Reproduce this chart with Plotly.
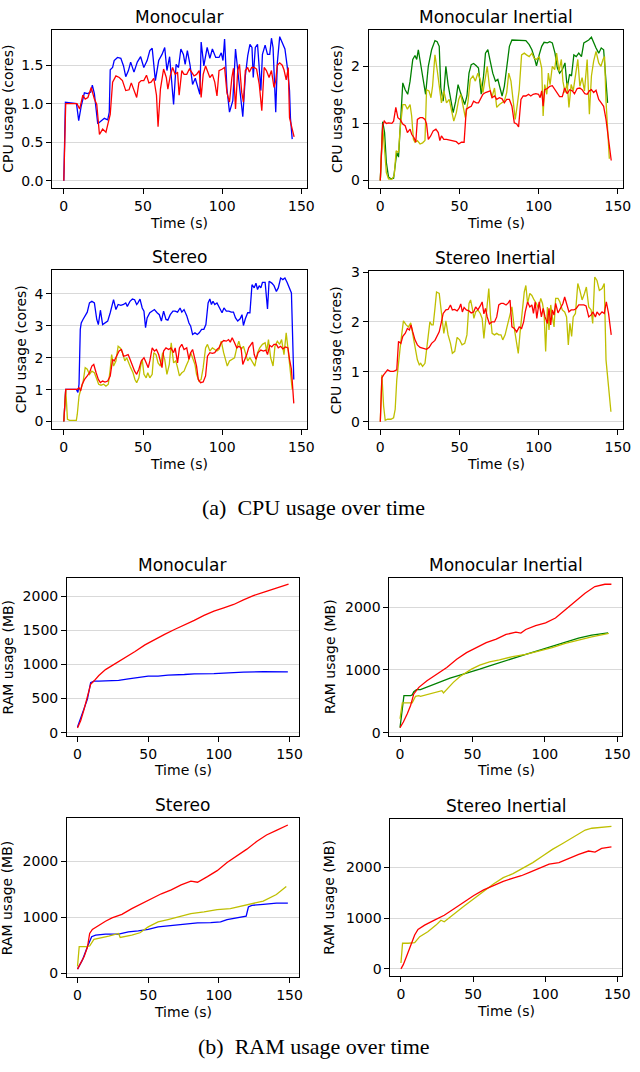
import plotly.graph_objects as go

# (time s, value) pairs
CPU_MONO_BLUE = [(0, 0), (1, 1.02), (8, 1.0), (9.4, 0.78), (11, 0.97), (12, 1.05), (13, 1.14), (15, 1.13), (17, 1.15), (18, 1.24), (19.3, 1.13), (21.4, 0.74), (23.5, 0.78), (25.6, 0.81), (27.7, 0.79), (28.7, 0.89), (29.3, 1.44), (30.8, 1.47), (31.8, 1.56), (33.9, 1.60), (36, 1.59), (37.7, 1.49), (39.1, 1.35), (40.8, 1.43), (42.2, 1.54), (44.3, 1.41), (46.4, 1.54), (48.5, 1.61), (50.5, 1.47), (52.6, 1.56), (54.3, 1.69), (55.8, 1.72), (57.8, 1.30), (59.9, 1.56), (62, 1.64), (63.7, 1.73), (65.1, 1.43), (66.8, 1.61), (67.8, 1.36), (69.3, 0.99), (70.9, 1.51), (72.4, 1.47), (73.9, 1.71), (75.5, 1.64), (76.6, 1.51), (78, 1.69), (79.7, 1.50), (81.3, 1.25), (83, 1.33), (84.9, 1.20), (85.9, 1.12), (86.7, 1.80), (88.4, 1.49), (90.5, 1.73), (92.2, 1.59), (93.8, 1.71), (95.9, 1.60), (98, 1.60), (99.4, 1.66), (100.5, 1.56), (101.5, 1.84), (103, 1.19), (104.6, 0.89), (106.7, 1.04), (108.4, 1.71), (110.3, 1.34), (111.3, 1.15), (113, 0.83), (114.6, 1.36), (116.1, 1.62), (117.5, 1.77), (118.8, 1.73), (119.6, 1.34), (120.9, 1.73), (122.3, 1.77), (124.4, 1.17), (125.4, 1.64), (127.1, 1.76), (128.6, 1.64), (130, 1.64), (131.1, 1.85), (132.1, 1.73), (133.8, 0.89), (134.8, 1.53), (136.3, 1.87), (137.9, 1.79), (139.6, 1.71), (141, 1.49), (142.5, 1.17), (143.1, 0.81), (144.2, 0.54)]
CPU_MONO_RED = [(0, 0), (1.2, 1.0), (8.3, 1.0), (10, 0.93), (11, 1.02), (12, 1.11), (13.5, 1.06), (15.2, 1.08), (17.3, 1.21), (19.3, 1.06), (20.8, 0.99), (22.5, 0.60), (24.5, 0.67), (26.6, 0.63), (28, 0.75), (29.3, 0.86), (30.8, 1.28), (32.9, 1.36), (35, 1.34), (37, 1.30), (39.1, 1.17), (41.2, 1.18), (42.6, 1.27), (44.3, 1.18), (46, 1.08), (47.4, 1.27), (48.9, 1.30), (50.5, 1.30), (52.2, 1.37), (53.7, 1.27), (55.1, 1.28), (56.8, 1.33), (58.5, 1.11), (59.5, 0.70), (61, 1.19), (63, 1.45), (64.7, 1.34), (65.7, 1.19), (67.2, 1.36), (68.7, 1.47), (70.3, 1.38), (71.8, 1.41), (72.8, 1.11), (74.5, 1.43), (75.9, 1.38), (77.6, 1.38), (79.3, 1.45), (80.7, 1.41), (82.2, 1.36), (83.8, 1.38), (85.5, 1.43), (86.7, 1.08), (88, 1.38), (89.5, 1.49), (90.7, 1.41), (92.2, 1.34), (93.8, 1.38), (95.3, 1.28), (96.7, 1.10), (98, 1.43), (100.1, 1.45), (101.5, 1.47), (103, 1.14), (104.6, 1.02), (106.1, 1.34), (107.1, 1.46), (108.4, 0.93), (109.8, 1.43), (110.9, 1.51), (112.3, 1.15), (113.4, 1.02), (114.6, 1.43), (116.1, 1.47), (117.1, 1.41), (118.6, 1.47), (120.2, 1.47), (121.7, 1.45), (123.4, 1.25), (125, 0.91), (126.5, 1.47), (127.9, 1.43), (129.6, 1.34), (131.1, 1.43), (132.7, 1.21), (133.8, 1.30), (134.8, 1.50), (136.3, 1.53), (137.9, 1.50), (139, 1.44), (140.4, 1.31), (141.7, 1.47), (142.5, 0.82), (144.2, 0.67), (145.4, 0.57)]

CPU_MONO_INERTIAL_GREEN = [(0, 0), (1.5, 1.03), (2.7, 0.84), (3.8, 0.32), (5.2, 0.06), (6.7, 0.03), (8.4, 0.04), (9.4, 0.29), (10.4, 0.49), (11.5, 0.41), (13, 1.13), (14.2, 1.71), (15.7, 1.59), (17.3, 1.51), (18.8, 1.74), (20.5, 2.12), (21.9, 2.19), (23, 2.12), (24, 2.29), (25.5, 2.03), (27.2, 1.68), (28.6, 1.51), (30.3, 2.0), (32.4, 2.29), (34.5, 2.45), (35.9, 2.43), (37.2, 2.35), (38.2, 1.62), (39.7, 1.39), (41.4, 2.0), (42.8, 1.68), (44.5, 1.42), (46, 1.19), (47.6, 1.39), (49.1, 1.68), (50.6, 1.54), (51.8, 1.45), (53.3, 1.33), (54.7, 1.48), (56, 1.88), (57.4, 2.03), (58.9, 2.05), (60.6, 2.01), (62, 1.97), (63.7, 1.51), (65.2, 1.83), (66.4, 2.23), (67.9, 2.29), (69.4, 2.09), (71, 1.88), (72.7, 1.74), (74.2, 1.77), (75.6, 1.62), (76.9, 1.48), (78.3, 1.65), (79.8, 2.0), (81.5, 2.35), (83.1, 2.46), (85.2, 2.46), (86.7, 2.45), (88.2, 2.46), (90.2, 2.46), (91.9, 2.45), (94, 2.38), (95.7, 2.29), (97.1, 2.17), (98.6, 2.01), (100.3, 2.20), (101.9, 2.35), (103.4, 2.42), (105.5, 2.41), (107, 2.43), (108.6, 2.41), (110.3, 2.23), (111.8, 1.97), (113.2, 1.88), (114.9, 1.94), (116.6, 2.06), (118, 1.62), (119.5, 1.86), (120.7, 1.83), (122.2, 2.20), (123.7, 2.17), (125.3, 2.23), (127, 2.17), (128.5, 2.41), (129.9, 2.43), (131.6, 2.46), (133.3, 2.51), (134.7, 2.41), (136.2, 2.32), (137.9, 2.23), (139.5, 2.32), (141, 2.29), (142, 1.88), (143.5, 1.36)]
CPU_MONO_INERTIAL_YELLOW = [(0, 0), (1.5, 0.93), (2.5, 0.61), (3.8, 0.14), (5.2, 0.03), (7.3, 0.02), (8.8, 0.09), (10, 0.52), (11.5, 0.49), (12.5, 0.90), (14.2, 1.33), (15.7, 1.33), (17.1, 1.25), (18.8, 1.33), (19.8, 1.13), (20.9, 0.72), (21.9, 0.67), (23.4, 0.70), (25.1, 0.64), (26.7, 0.66), (28.2, 0.70), (29.2, 1.59), (30.7, 1.57), (32, 1.45), (33, 1.65), (34.5, 2.20), (35.9, 1.94), (37.2, 1.65), (38.6, 1.36), (40.1, 1.57), (41.8, 1.36), (43.5, 1.42), (44.9, 1.25), (46.4, 1.04), (48, 1.19), (49.5, 1.42), (50.8, 1.51), (52.2, 1.30), (53.7, 1.10), (55.4, 1.39), (56.8, 1.77), (58.5, 1.83), (60, 1.74), (61.6, 1.88), (63.1, 1.77), (64.8, 1.54), (66.2, 1.77), (67.5, 2.0), (68.9, 1.65), (70.4, 1.45), (72.1, 1.62), (73.5, 1.28), (75.2, 1.33), (76.9, 1.36), (78.3, 1.39), (79.8, 1.54), (81.1, 1.88), (82.5, 1.74), (84, 1.30), (85.2, 1.07), (86.5, 1.33), (87.7, 1.59), (89.2, 2.20), (90.9, 2.23), (92.3, 2.20), (94, 2.17), (95.7, 2.23), (97.1, 2.14), (98.6, 2.12), (100.3, 2.17), (101.9, 1.97), (102.8, 1.13), (103.8, 1.68), (105.1, 1.51), (106.1, 1.88), (107.2, 1.68), (108.6, 2.0), (110.1, 1.94), (111.3, 2.23), (112.8, 1.91), (114.3, 2.12), (115.3, 1.74), (116.6, 1.54), (118, 1.71), (119.1, 1.28), (120.5, 1.68), (121.8, 1.57), (123.2, 1.80), (124.7, 2.12), (126, 1.65), (127.4, 1.80), (128.9, 1.57), (130.6, 2.12), (132, 1.16), (133.3, 1.83), (134.7, 2.09), (136.2, 2.26), (137.9, 2.06), (139.3, 2.0), (140.6, 2.12), (141.6, 2.17), (142.5, 1.39), (143.5, 0.87), (144.6, 0.38)]
CPU_MONO_INERTIAL_RED = [(0, 0), (1.5, 0.96), (2.5, 1.04), (3.8, 1.0), (5.2, 1.01), (7.3, 1.0), (8.4, 1.04), (9.8, 1.28), (11.1, 1.10), (12.5, 1.07), (14.2, 0.99), (15.7, 0.96), (17.1, 0.84), (18.8, 0.90), (19.8, 0.81), (21.3, 0.75), (22.4, 0.67), (23.4, 1.07), (25.1, 1.10), (26.7, 1.10), (28.2, 1.07), (29.2, 0.99), (30.3, 0.72), (31.8, 0.78), (33.4, 0.87), (35.1, 0.90), (36.6, 0.84), (37.6, 0.70), (38.6, 0.78), (40.1, 0.72), (41.8, 0.72), (43.9, 0.71), (46, 0.70), (48, 0.68), (49.5, 0.64), (51.2, 0.67), (52.9, 0.67), (54.3, 1.25), (56, 1.28), (57.4, 1.30), (58.9, 1.39), (60.6, 1.36), (62, 1.36), (63.3, 1.42), (64.8, 1.51), (66.4, 1.54), (67.9, 1.55), (69.4, 1.57), (70.6, 1.45), (72.1, 1.48), (73.5, 1.42), (75.2, 1.45), (76.9, 1.43), (78.3, 1.36), (79.8, 1.42), (81.5, 1.42), (83.1, 1.30), (84.6, 1.01), (86.1, 0.99), (87.3, 0.94), (88.8, 1.42), (90.2, 1.48), (91.9, 1.48), (93.6, 1.51), (95, 1.48), (96.5, 1.51), (98.2, 1.52), (99.9, 1.51), (100.9, 1.45), (101.9, 1.57), (102.8, 1.30), (103.8, 1.59), (105.5, 1.61), (107, 1.65), (108.6, 1.66), (110.1, 1.59), (111.8, 1.52), (113.2, 1.47), (114.9, 1.47), (116.4, 1.62), (118, 1.52), (119.5, 1.59), (121.2, 1.57), (122.6, 1.52), (124.3, 1.61), (126, 1.62), (127.4, 1.59), (129.1, 1.52), (130.6, 1.51), (132, 1.57), (133.3, 1.59), (134.7, 1.54), (136.2, 1.58), (137.9, 1.42), (139.5, 1.36), (141, 1.30), (142.5, 1.07), (144.1, 0.67), (145.8, 0.35)]

CPU_STEREO_BLUE = [(0, 0), (1.2, 1.01), (2.7, 1.01), (5.8, 1.01), (7.9, 1.01), (8.9, 0.91), (9.6, 1.17), (10.4, 2.89), (11, 3.09), (12.1, 3.20), (13.5, 3.30), (14.8, 3.43), (16.2, 3.72), (17.7, 3.77), (19.3, 3.72), (20.8, 3.20), (21.8, 3.04), (23.1, 3.49), (24.5, 3.04), (26, 3.09), (27.7, 3.15), (29.3, 3.41), (30.2, 3.56), (31.4, 3.82), (32.9, 3.51), (34.3, 3.67), (36, 3.64), (37.7, 3.67), (39.1, 3.72), (40.1, 3.61), (41.8, 3.77), (43.3, 3.84), (44.7, 3.82), (46, 3.67), (46.8, 3.72), (48.1, 3.84), (49.5, 3.56), (50.6, 3.46), (51.6, 2.94), (52.6, 3.25), (54.3, 3.41), (55.8, 3.46), (57.2, 3.51), (58.9, 3.41), (60.3, 3.35), (61.6, 3.15), (63, 3.46), (64.5, 3.20), (65.7, 3.18), (67.2, 3.35), (68.9, 3.46), (70.3, 3.46), (71.8, 3.43), (73.4, 3.56), (74.5, 3.43), (75.9, 3.51), (77.6, 3.32), (79, 3.09), (80.1, 2.99), (81.3, 2.73), (82.8, 2.78), (84.3, 2.73), (85.5, 2.78), (87, 2.89), (88.4, 2.89), (89.7, 3.04), (91.1, 3.72), (92.2, 3.84), (93.2, 3.67), (94.2, 3.77), (95.3, 3.67), (96.7, 3.72), (98.4, 3.56), (99.9, 3.41), (101.1, 3.56), (102.6, 3.46), (104.2, 3.46), (105.7, 3.43), (107.1, 3.43), (108.4, 3.25), (109.8, 3.15), (111.3, 3.22), (112.5, 3.35), (113.4, 3.01), (114.6, 3.22), (116.1, 3.41), (117.5, 3.41), (118.8, 4.29), (120.2, 4.19), (121.3, 4.34), (122.3, 4.14), (123.4, 4.26), (124.4, 4.19), (125.4, 4.36), (127.1, 4.36), (128.6, 3.53), (129.6, 4.40), (131.3, 4.34), (132.7, 4.26), (134.2, 4.08), (135.4, 4.19), (136.9, 4.50), (138.3, 4.45), (139.6, 4.50), (141, 4.36), (142.5, 4.14), (143.7, 4.03), (145.2, 1.32)]
CPU_STEREO_YELLOW = [(0, 0), (1.2, 1.01), (2.3, 0.07), (3.7, 0.04), (5.8, 0.04), (7.9, 0.04), (8.5, 0.23), (9.6, 0.80), (11, 1.06), (12.1, 1.22), (13.5, 1.69), (14.8, 1.64), (16.2, 1.48), (17.7, 1.58), (19.3, 1.53), (20.8, 1.32), (22, 1.17), (23.5, 1.14), (25.2, 1.17), (26.6, 1.11), (28.1, 1.17), (29.3, 1.64), (30.2, 2.10), (31.4, 1.74), (32.9, 1.90), (34.3, 2.36), (35.6, 2.31), (37, 2.16), (38.5, 1.90), (39.7, 2.0), (41.2, 1.79), (42.2, 1.69), (43.7, 1.53), (44.9, 1.32), (46, 1.22), (47.4, 1.37), (48.5, 1.74), (49.5, 1.95), (50.6, 1.48), (52, 1.37), (53, 1.53), (54.3, 1.37), (55.8, 1.48), (56.8, 2.16), (58.2, 2.10), (59.5, 1.84), (61, 1.74), (62.4, 2.16), (63.7, 1.95), (65.1, 1.48), (66.6, 1.79), (67.8, 2.47), (69.3, 1.84), (70.7, 1.90), (71.8, 1.69), (73, 1.43), (74.5, 1.53), (75.9, 1.58), (77.2, 1.74), (78.6, 1.90), (80.1, 2.16), (81.3, 2.0), (82.8, 1.79), (83.8, 1.48), (85.3, 1.27), (86.7, 1.32), (88, 1.69), (89.5, 2.31), (90.7, 2.42), (92.2, 2.21), (93.8, 2.31), (95.3, 2.26), (96.7, 2.21), (98, 2.26), (99.4, 2.52), (100.9, 2.16), (102.2, 1.95), (103.2, 1.74), (104.6, 1.90), (106.3, 1.95), (107.8, 2.0), (109.2, 2.31), (110.5, 2.52), (111.9, 2.26), (113.4, 2.36), (114.6, 2.16), (116.1, 1.90), (117.5, 2.0), (119.2, 1.84), (120.6, 1.74), (122.3, 2.16), (123.7, 2.31), (125.4, 2.42), (127.1, 2.47), (128.1, 2.21), (129.2, 2.57), (130.6, 2.0), (132.1, 1.74), (133.3, 2.36), (134.8, 2.52), (136.3, 2.42), (137.5, 2.57), (139, 2.10), (140.4, 2.78), (141.7, 2.21), (143.1, 1.53), (144.2, 1.01)]
CPU_STEREO_RED = [(0, 0), (1.2, 1.01), (2.7, 1.01), (5.8, 1.01), (8.5, 1.01), (9.6, 1.06), (10.6, 0.96), (11.6, 1.17), (13.1, 1.32), (14.8, 1.43), (16.2, 1.53), (17.7, 1.74), (18.9, 1.79), (20.4, 1.53), (21.8, 1.32), (23.1, 1.22), (24.5, 1.27), (26, 1.24), (27.7, 1.27), (29.3, 1.43), (30.8, 1.95), (31.8, 1.90), (33.5, 2.10), (34.9, 2.21), (36.4, 2.26), (37.7, 2.05), (39.1, 2.07), (40.6, 2.10), (41.8, 1.95), (43.3, 1.74), (44.7, 1.58), (46, 1.48), (47.4, 1.64), (48.9, 1.90), (50.6, 2.0), (52, 1.84), (53.3, 1.69), (54.3, 1.90), (55.8, 2.31), (57.2, 2.21), (58.5, 2.26), (59.9, 2.10), (61, 1.90), (62, 1.69), (63, 2.21), (64.5, 2.31), (66.2, 2.26), (67.6, 2.31), (69.3, 2.16), (70.3, 2.31), (71.8, 1.84), (73, 2.31), (74.5, 2.42), (75.9, 2.26), (77.6, 2.31), (79, 1.95), (80.1, 2.16), (81.3, 2.26), (82.8, 1.95), (83.8, 1.74), (84.9, 1.32), (86.3, 1.22), (88, 1.24), (89.5, 1.43), (90.7, 2.05), (92.2, 2.16), (93.8, 2.14), (95.3, 2.16), (96.7, 2.26), (98, 2.31), (99.4, 2.47), (100.9, 2.54), (102.6, 2.52), (104, 2.57), (105.1, 2.49), (106.3, 2.63), (107.8, 2.47), (109.2, 2.31), (110.5, 2.36), (111.9, 2.31), (113, 1.79), (114, 1.90), (115.5, 2.10), (116.7, 2.31), (118.2, 2.42), (119.2, 2.49), (120.2, 2.10), (121.3, 1.95), (122.7, 2.16), (124.4, 2.24), (126, 2.21), (127.5, 2.24), (128.6, 2.10), (130, 2.39), (131.3, 2.34), (132.7, 2.42), (134.2, 2.42), (135.4, 2.31), (136.9, 2.36), (138.3, 2.28), (140, 2.34), (141.5, 2.31), (142.5, 1.95), (143.7, 1.64), (145.2, 0.57)]

CPU_STEREO_INERTIAL_YELLOW = [(0, 0), (1, 0.94), (2.1, 0.31), (3.1, 0.03), (4.6, 0.05), (6.7, 0.05), (8.4, 0.08), (9.4, 0.25), (10.4, 0.84), (11.5, 1.24), (12.5, 1.47), (13.6, 1.77), (14.6, 2.02), (16.3, 1.94), (17.8, 1.90), (19.2, 1.98), (20.5, 1.74), (21.9, 1.51), (23.4, 1.24), (24.6, 1.14), (25.5, 1.17), (26.7, 1.11), (28.2, 1.17), (29.7, 1.57), (31.3, 2.0), (32.4, 1.94), (33.4, 1.94), (34.5, 2.27), (35.5, 2.60), (37.2, 2.57), (38.6, 2.14), (40.1, 1.77), (41.4, 2.02), (42.8, 1.74), (44.3, 1.57), (45.5, 1.37), (47, 1.41), (48.5, 1.69), (50.1, 1.64), (51.6, 1.54), (53.3, 1.57), (54.7, 1.74), (56, 2.37), (57, 2.44), (58.1, 2.27), (59.1, 2.07), (60.2, 2.20), (61.6, 2.24), (63.1, 2.17), (64.3, 2.07), (65.4, 1.67), (66.4, 2.0), (67.5, 2.27), (68.5, 2.67), (69.6, 2.10), (70.6, 1.77), (72.1, 1.74), (73.5, 1.77), (74.8, 1.74), (76.2, 1.74), (77.3, 1.64), (78.8, 1.74), (80, 1.90), (81.5, 2.10), (83.1, 2.30), (84.6, 1.87), (86.1, 1.54), (87.1, 1.37), (88.2, 1.77), (89.4, 2.17), (90.9, 2.60), (91.9, 2.73), (93, 2.37), (94.4, 2.57), (95.7, 2.53), (97.1, 2.44), (98.6, 2.37), (99.9, 2.27), (101.3, 2.47), (102.4, 2.37), (103.4, 2.17), (104.4, 1.41), (105.5, 2.30), (106.5, 1.84), (107.6, 2.34), (108.6, 2.10), (109.7, 1.90), (110.7, 2.47), (112.2, 2.47), (113.4, 2.40), (114.9, 2.24), (116.4, 2.20), (117.6, 2.10), (118.7, 1.54), (119.7, 1.97), (120.8, 1.71), (121.8, 2.10), (123.2, 2.17), (124.7, 2.77), (126, 2.63), (127.4, 2.44), (128.9, 2.57), (130.1, 2.70), (131.6, 2.30), (133.1, 2.24), (134.1, 1.97), (135.4, 2.90), (136.8, 2.83), (138.3, 2.63), (140, 2.67), (141.4, 2.77), (142.5, 1.24), (143.7, 0.78), (145.6, 0.20)]
CPU_STEREO_INERTIAL_RED = [(0, 0), (1, 0.88), (2.1, 0.94), (3.1, 0.98), (4.6, 1.04), (6.3, 1.01), (8.4, 1.01), (10.4, 1.04), (11.5, 1.61), (13, 1.57), (14.2, 1.71), (15.7, 1.77), (17.1, 1.87), (18.4, 1.84), (19.4, 1.94), (20.5, 1.80), (21.9, 1.64), (23.4, 1.54), (25.1, 1.49), (27.2, 1.47), (29.2, 1.45), (30.9, 1.49), (32.4, 1.57), (34.5, 1.63), (35.9, 1.71), (37.2, 1.80), (38.6, 2.0), (39.7, 2.17), (41.4, 2.24), (42.8, 2.25), (44.3, 2.34), (45.5, 2.24), (47, 2.25), (48.5, 2.22), (49.7, 2.27), (50.8, 2.36), (51.8, 2.20), (52.9, 2.29), (54.3, 2.24), (56, 2.22), (57.4, 2.18), (58.9, 2.20), (60.2, 2.30), (61.6, 2.24), (63.1, 2.32), (64.3, 2.40), (65.4, 2.16), (66.4, 2.27), (67.5, 2.10), (68.9, 1.96), (70.4, 2.0), (72.1, 2.0), (73.5, 2.10), (74.8, 2.34), (76.2, 2.37), (77.7, 2.37), (79.4, 2.34), (80.8, 2.38), (81.9, 2.44), (83.1, 1.90), (84.6, 1.87), (86.1, 1.80), (87.7, 1.90), (89.2, 1.87), (90.5, 2.0), (91.5, 2.20), (93, 2.40), (94.4, 2.30), (95.7, 2.34), (96.7, 2.17), (97.8, 2.40), (98.8, 2.07), (100.3, 2.40), (101.7, 2.10), (102.8, 2.27), (104, 2.10), (105.5, 1.97), (106.5, 2.27), (107.6, 1.94), (108.6, 2.24), (109.7, 2.14), (110.7, 2.37), (112.2, 2.18), (113.9, 2.27), (115.3, 2.37), (116.4, 2.50), (117.6, 2.34), (119.1, 2.20), (120.5, 2.24), (122.2, 2.24), (123.7, 2.27), (125.3, 2.34), (127, 2.34), (128.5, 2.34), (129.9, 2.32), (131.6, 2.10), (133.1, 2.14), (134.3, 2.20), (135.8, 2.10), (136.8, 2.20), (138.3, 2.14), (140, 2.20), (141.4, 2.17), (142.7, 2.40), (144.1, 2.17), (145.8, 1.74)]

RAM_MONO_BLUE = [(0, 82), (3.5, 275), (7, 492), (9.3, 733), (11.6, 757), (15.1, 757), (22.1, 757), (29.1, 766), (36, 790), (43, 805), (50, 829), (57, 829), (64, 843), (75.6, 853), (82.6, 863), (96.5, 867), (103.5, 877), (117.4, 887), (131.4, 896), (141.9, 892), (148.8, 892)]
RAM_MONO_RED = [(0, 67), (2.3, 178), (4.7, 347), (7, 516), (9.3, 708), (11.6, 757), (15.1, 839), (19.8, 925), (26.7, 1012), (33.7, 1094), (40.7, 1190), (47.7, 1287), (54.7, 1369), (61.6, 1441), (68.6, 1513), (75.6, 1576), (82.6, 1648), (89.5, 1720), (96.5, 1783), (103.5, 1831), (110.5, 1880), (117.4, 1947), (124.4, 2010), (131.4, 2058), (138.4, 2106), (143, 2140), (149.3, 2178)]

RAM_MONO_INERTIAL_GREEN = [(0, 79), (1.6, 379), (2.7, 589), (7.3, 589), (8.4, 600), (9.5, 653), (11.4, 684), (14.1, 684), (20.9, 747), (27.7, 811), (34.5, 868), (41.4, 916), (48.2, 958), (55, 1011), (61.8, 1063), (68.6, 1116), (77.7, 1179), (86.8, 1247), (95.9, 1311), (105, 1379), (114.1, 1442), (123.2, 1505), (132.3, 1553), (143.6, 1589)]
RAM_MONO_INERTIAL_YELLOW = [(0, 221), (1.6, 474), (5, 474), (8.4, 474), (10.7, 579), (13, 589), (14.1, 579), (20.9, 616), (26.6, 653), (28.9, 668), (30, 632), (32.3, 695), (36.8, 800), (41.4, 895), (45.9, 958), (49.3, 1011), (55, 1074), (61.8, 1126), (68.6, 1158), (77.7, 1211), (86.8, 1247), (95.9, 1300), (105, 1353), (114.1, 1421), (123.2, 1474), (132.3, 1526), (144.1, 1579)]
RAM_MONO_INERTIAL_RED = [(0, 79), (2.3, 168), (5, 300), (7.3, 432), (9.5, 616), (13, 721), (18.6, 826), (25.5, 932), (32.3, 1037), (39.1, 1168), (45.9, 1274), (52.7, 1353), (59.5, 1432), (66.4, 1490), (73.2, 1563), (80, 1600), (83.4, 1585), (86.8, 1642), (93.6, 1705), (100.5, 1747), (107.3, 1826), (114.1, 1958), (120.9, 2089), (127.7, 2221), (134.5, 2326), (141.4, 2363), (145.9, 2363)]

RAM_STEREO_BLUE = [(0, 71), (3.5, 237), (7, 473), (10, 651), (12.8, 680), (19.8, 698), (29.1, 698), (36, 740), (43, 757), (50, 781), (57, 828), (64, 846), (73.3, 876), (84.9, 899), (94.2, 905), (101.2, 917), (105.8, 959), (112.8, 988), (119.3, 1018), (120.9, 1183), (123.3, 1213), (131.4, 1231), (140.7, 1254), (148.8, 1254)]
RAM_STEREO_YELLOW = [(0, 118), (1.2, 473), (5.8, 473), (8.6, 485), (11.6, 604), (15.1, 621), (22.1, 663), (29.1, 710), (30.2, 639), (38.4, 680), (44.2, 722), (50, 828), (57, 917), (64, 959), (73.3, 1018), (80.2, 1065), (89.5, 1095), (98.8, 1136), (108.1, 1154), (117.4, 1213), (131.4, 1290), (140.7, 1408), (147.7, 1550)]
RAM_STEREO_RED = [(0, 71), (2.3, 178), (4.7, 296), (7, 462), (8.6, 710), (10.5, 781), (15.1, 858), (19.8, 929), (24.4, 988), (31.4, 1053), (38.4, 1154), (45.3, 1243), (52.3, 1331), (59.3, 1420), (66.3, 1491), (73.3, 1580), (80.2, 1645), (84.9, 1627), (91.9, 1728), (98.8, 1834), (105.8, 1982), (112.8, 2101), (119.8, 2219), (126.7, 2355), (133.7, 2473), (140.7, 2556), (148.8, 2651)]

RAM_STEREO_INERTIAL_YELLOW = [(0, 117), (1.1, 506), (5, 506), (9.5, 519), (13, 636), (18.6, 734), (24.3, 864), (27.7, 961), (30, 929), (36.8, 1091), (43.6, 1234), (50.5, 1383), (57.3, 1532), (64.1, 1675), (70.9, 1800), (77.7, 1880), (84.5, 1987), (91.4, 2097), (98.2, 2227), (105, 2357), (111.8, 2468), (118.6, 2584), (123.2, 2662), (127.7, 2740), (132.3, 2775), (139.1, 2795), (145.9, 2812)]
RAM_STEREO_INERTIAL_RED = [(0, 0), (1.6, 84), (3.9, 247), (7.3, 506), (9.5, 669), (11.8, 779), (16.4, 864), (23.2, 961), (30, 1058), (36.8, 1188), (43.6, 1318), (50.5, 1448), (57.3, 1558), (64.1, 1643), (70.9, 1727), (77.7, 1792), (83.4, 1838), (89.1, 1903), (95.9, 1987), (102.7, 2065), (109.5, 2097), (116.4, 2182), (123.2, 2260), (130, 2325), (134.5, 2305), (139.1, 2377), (145.9, 2409)]

X_TICKS = [0, 50, 100, 150]

COLORS = {"blue": "#0000ff", "red": "#ff0000", "green": "#008000", "yellow": "#bfbf00"}

W, H = 640, 1072


def px(x):
    return x / W


def py(y):
    return 1 - y / H


# title, series, y label, y ticks, y range, x range, box (l, r, top, bottom), ylabel x
panels = [
    ("Monocular", [("blue", CPU_MONO_BLUE), ("red", CPU_MONO_RED)],
     "CPU usage (cores)", [0, 0.5, 1.0, 1.5], [-0.094, 1.96], [-7.3, 153.3], (53, 311, 23, 183), 8),
    ("Monocular Inertial", [("green", CPU_MONO_INERTIAL_GREEN), ("yellow", CPU_MONO_INERTIAL_YELLOW),
                            ("red", CPU_MONO_INERTIAL_RED)],
     "CPU usage (cores)", [0, 1, 2], [-0.13, 2.64], [-7.3, 153.3], (374, 632, 23, 183), 342),
    ("Stereo", [("blue", CPU_STEREO_BLUE), ("yellow", CPU_STEREO_YELLOW), ("red", CPU_STEREO_RED)],
     "CPU usage (cores)", [0, 1, 2, 3, 4], [-0.24, 4.75], [-7.3, 153.3], (53, 311, 266, 427), 21),
    ("Stereo Inertial", [("yellow", CPU_STEREO_INERTIAL_YELLOW), ("red", CPU_STEREO_INERTIAL_RED)],
     "CPU usage (cores)", [0, 1, 2, 3], [-0.15, 3.02], [-7.3, 153.3], (374, 632, 267, 427), 341),
    ("Monocular", [("blue", RAM_MONO_BLUE), ("red", RAM_MONO_RED)],
     "RAM usage (MB)", [0, 500, 1000, 1500, 2000], [-45, 2275], [-7.4, 156.5], (68, 303, 577, 737), 8),
    ("Monocular Inertial", [("green", RAM_MONO_INERTIAL_GREEN), ("yellow", RAM_MONO_INERTIAL_YELLOW),
                            ("red", RAM_MONO_INERTIAL_RED)],
     "RAM usage (MB)", [0, 1000, 2000], [-50, 2470], [-7.3, 153.3], (395, 631, 577, 737), 334),
    ("Stereo", [("blue", RAM_STEREO_BLUE), ("yellow", RAM_STEREO_YELLOW), ("red", RAM_STEREO_RED)],
     "RAM usage (MB)", [0, 1000, 2000], [-70, 2780], [-7.4, 156.5], (68, 303, 820, 981), 8),
    ("Stereo Inertial", [("yellow", RAM_STEREO_INERTIAL_YELLOW), ("red", RAM_STEREO_INERTIAL_RED)],
     "RAM usage (MB)", [0, 1000, 2000], [-141, 2961], [-7.3, 153.3], (396, 631, 821, 980), 334),
]

FONT = "DejaVu Sans"

fig = go.Figure()
annotations = []
layout = {}

for i, (title, series, ylabel, yticks, yrange, xrange_, box, ylab_x) in enumerate(panels, start=1):
    l, r, top, bottom = box
    xa = "x" if i == 1 else f"x{i}"
    ya = "y" if i == 1 else f"y{i}"
    for color, pts in series:
        t, v = zip(*pts)
        fig.add_trace(go.Scatter(x=list(t), y=list(v), mode="lines", xaxis=xa, yaxis=ya,
                                 line=dict(color=COLORS[color], width=1.3),
                                 showlegend=False, hoverinfo="skip"))

    axis_common = dict(showline=True, mirror=True, linecolor="black", linewidth=1,
                       ticks="outside", ticklen=5, tickcolor="black", tickwidth=1,
                       zeroline=False, tickfont=dict(family=FONT, size=14, color="black"))
    layout["xaxis" if i == 1 else f"xaxis{i}"] = dict(
        axis_common, domain=[px(l), px(r)], anchor=ya, range=xrange_,
        tickvals=X_TICKS, showgrid=False)
    layout["yaxis" if i == 1 else f"yaxis{i}"] = dict(
        axis_common, domain=[py(bottom), py(top)], anchor=xa, range=yrange,
        tickvals=yticks, tickformat=".1f" if i == 1 else "d",
        showgrid=True, gridcolor="#d9d9d9", gridwidth=0.8)

    cx = (l + r) / 2
    annotations.append(dict(text=title, x=px(cx), y=py(top - 13), xref="paper", yref="paper",
                            showarrow=False, font=dict(family=FONT, size=17, color="black"),
                            xanchor="center", yanchor="middle"))
    annotations.append(dict(text="Time (s)", x=px(cx), y=py(bottom + 35), xref="paper", yref="paper",
                            showarrow=False, font=dict(family=FONT, size=14, color="black"),
                            xanchor="center", yanchor="middle"))
    annotations.append(dict(text=ylabel, x=px(ylab_x), y=py((top + bottom) / 2), xref="paper",
                            yref="paper", showarrow=False, textangle=-90,
                            font=dict(family=FONT, size=14, color="black"),
                            xanchor="center", yanchor="middle"))

for text, y in [("(a)  CPU usage over time", 506), ("(b)  RAM usage over time", 1051)]:
    annotations.append(dict(text=text, x=px(318), y=py(y), xref="paper", yref="paper",
                            showarrow=False, font=dict(family="Liberation Serif", size=22, color="black"),
                            xanchor="center", yanchor="middle"))

fig.update_layout(
    width=W, height=H,
    margin=dict(l=0, r=0, t=0, b=0),
    paper_bgcolor="white", plot_bgcolor="white",
    annotations=annotations,
    **layout,
)

# the page body has a default 8px margin; drop it so the figure sits at the window's corner
fig.write_html("out.html", config={"displayModeBar": False},
               post_script="document.body.style.margin='0';")
